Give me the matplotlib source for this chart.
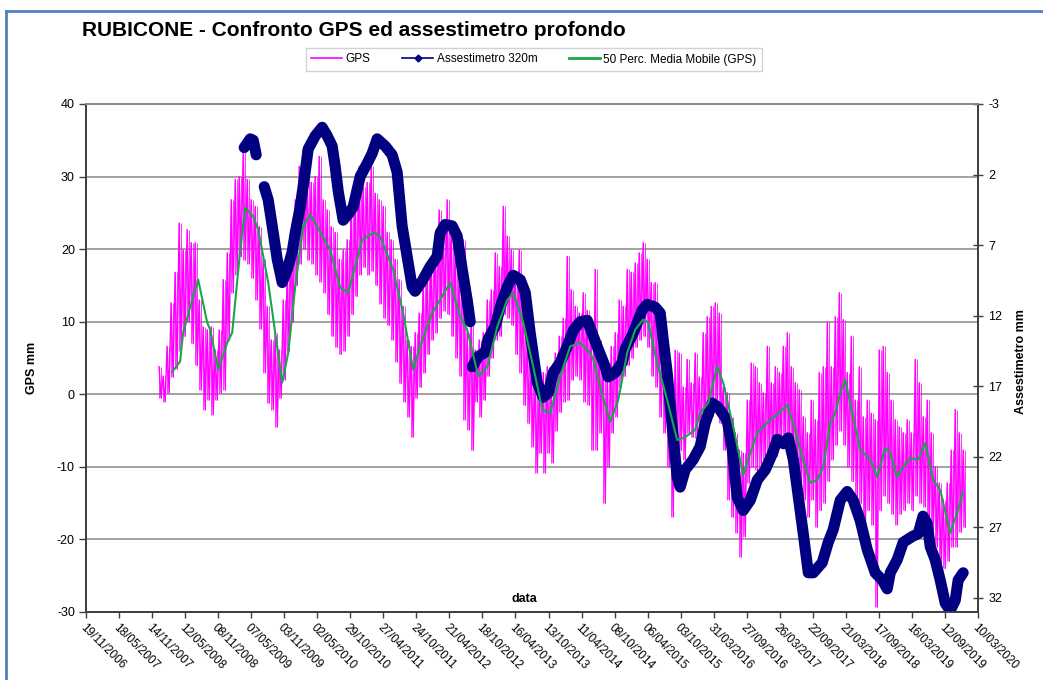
import numpy as np
import matplotlib
matplotlib.use("Agg")
import matplotlib.pyplot as plt
import matplotlib.dates as mdates
from matplotlib.lines import Line2D
from datetime import datetime, timedelta

plt.rcParams['font.family'] = ['Liberation Sans', 'DejaVu Sans']
plt.rcParams['axes.unicode_minus'] = False

# GPS (mm): minimo e massimo ogni ~3 settimane, da fine 2007 a fine 2019
gps_inizio, gps_fine = 2007.988, 2019.983
gps_max = [
    3.8, 2.5, 6.6, 12.6, 16.8, 23.6, 19.9, 22.7, 20.9, 20.9,
    13.0, 9.3, 8.9, 9.3, 6.1, 8.9, 15.8, 19.5, 26.8, 29.6,
    30.0, 33.4, 29.6, 26.8, 25.9, 23.1, 18.6, 12.1, 7.5, 8.5,
    6.1, 13.0, 17.6, 22.3, 26.8, 31.4, 33.7, 30.0, 29.2, 30.0,
    32.8, 26.8, 25.4, 23.1, 22.3, 18.6, 19.9, 21.3, 26.8, 27.7,
    31.4, 28.6, 29.2, 31.4, 27.7, 26.8, 25.9, 22.3, 21.3, 18.6,
    15.8, 12.1, 7.5, 6.6, 8.5, 11.2, 15.8, 16.8, 18.6, 21.3,
    25.4, 23.1, 26.8, 23.1, 19.9, 16.8, 21.3, 8.5, 11.2, 6.1,
    7.5, 8.5, 13.0, 14.4, 19.5, 17.6, 25.9, 21.8, 19.9, 16.8,
    19.9, 11.2, 7.5, 3.8, 2.0, 1.0, 3.0, 3.8, 1.6, 5.7,
    8.0, 10.5, 19.0, 14.4, 12.1, 11.2, 14.0, 11.6, 8.5, 17.2,
    7.5, 4.8, 3.0, 6.6, 8.5, 13.0, 12.1, 17.2, 16.8, 18.1,
    19.5, 20.9, 18.6, 15.4, 15.4, 7.5, 7.5, 1.6, 1.0, 6.1,
    5.7, 1.0, 4.8, 1.6, 5.7, 2.4, 8.5, 10.7, 12.1, 12.6,
    11.2, 1.0, 0.2, -3.1, -5.3, -7.7, -8.1, -0.8, 4.3, 3.8,
    1.6, 0.2, 6.6, 1.6, 3.8, 3.0, 6.6, 8.5, 3.8, 1.6,
    0.6, -3.1, -5.3, -0.8, -3.5, 3.0, 3.8, 9.9, 3.8, 10.7,
    14.0, 10.3, 3.0, 8.0, -0.8, 3.8, -3.1, -0.8, -2.6, -3.5,
    6.1, 6.6, 3.0, -0.8, -3.5, -4.5, -5.3, -3.5, -5.3, 4.8,
    1.6, -3.1, -0.8, -5.3, -10.0, -12.2, -14.5, -12.2, -7.7, -2.1,
    -5.3, -7.7,
]
gps_min = [
    -0.5, -1.0, 0.2, 2.4, 3.5, 6.0, 8.0, 10.0, 7.0, 4.0,
    0.6, -2.1, -0.8, -2.8, -0.8, 0.2, 0.6, 7.5, 14.0, 16.5,
    19.0, 18.5, 18.0, 16.0, 13.0, 9.0, 3.0, -1.2, -2.1, -4.5,
    -0.5, 2.0, 6.0, 10.0, 15.0, 18.0, 20.0, 18.5, 18.0, 16.5,
    15.5, 14.0, 11.0, 8.0, 6.5, 5.5, 6.0, 8.0, 11.0, 13.5,
    16.5, 17.5, 16.5, 17.0, 15.0, 12.5, 10.5, 9.5, 7.5, 4.5,
    1.5, -1.0, -3.1, -5.9, -0.5, 1.0, 3.0, 5.5, 7.5, 8.5,
    10.5, 11.5, 11.0, 8.0, 5.0, 2.5, -3.5, -4.9, -7.7, -1.0,
    -3.1, -0.8, 2.5, 5.0, 7.5, 8.0, 11.0, 10.5, 9.5, 5.5,
    3.0, -1.5, -4.0, -7.2, -10.8, -8.1, -10.8, -8.1, -9.4, -5.0,
    -2.5, -1.0, -0.8, 2.0, 2.5, 2.0, -1.0, -1.5, -7.7, -7.7,
    -5.3, -15.0, -10.0, -5.3, -3.1, 1.0, 2.5, 4.0, 5.0, 6.5,
    7.5, 8.0, 6.5, 2.5, 1.0, -3.1, -5.3, -10.0, -16.9, -10.0,
    -7.7, -9.0, -5.3, -5.9, -6.0, -7.0, -6.0, -4.5, -3.0, -2.0,
    -4.0, -7.7, -14.5, -16.9, -19.1, -22.4, -19.6, -12.2, -10.0, -10.5,
    -10.0, -9.5, -8.5, -8.0, -8.5, -7.0, -7.5, -8.0, -9.5, -12.0,
    -12.8, -14.5, -16.9, -14.5, -18.3, -16.0, -15.0, -12.0, -9.0, -7.0,
    -5.0, -7.0, -10.0, -12.0, -14.0, -15.0, -19.1, -16.0, -18.0, -29.3,
    -16.0, -14.0, -15.0, -16.5, -18.0, -16.5, -16.0, -15.0, -16.0, -14.0,
    -15.0, -15.5, -18.3, -19.0, -21.0, -23.8, -24.0, -23.0, -21.0, -21.0,
    -19.0, -18.3,
]

# media mobile 50 periodi del GPS (mm)
mm_anno = [
    2008.167, 2008.286, 2008.331, 2008.466, 2008.555, 2008.689, 2008.734, 2008.853, 2008.988, 2009.062,
    2009.182, 2009.256, 2009.376, 2009.450, 2009.599, 2009.808, 2009.898, 2010.002, 2010.121, 2010.226,
    2010.330, 2010.524, 2010.673, 2010.793, 2010.927, 2011.002, 2011.121, 2011.196, 2011.270, 2011.464,
    2011.613, 2011.763, 2011.867, 2012.046, 2012.195, 2012.315, 2012.464, 2012.568, 2012.732, 2012.867,
    2013.016, 2013.165, 2013.254, 2013.404, 2013.553, 2013.687, 2013.806, 2013.956, 2014.105, 2014.254,
    2014.403, 2014.448, 2014.552, 2014.702, 2014.821, 2014.955, 2015.075, 2015.194, 2015.268, 2015.403,
    2015.552, 2015.701, 2015.821, 2015.970, 2016.044, 2016.164, 2016.298, 2016.387, 2016.537, 2016.686,
    2016.790, 2016.895, 2017.089, 2017.238, 2017.342, 2017.462, 2017.536, 2017.685, 2017.790, 2017.879,
    2017.984, 2018.058, 2018.133, 2018.208, 2018.312, 2018.431, 2018.581, 2018.685, 2018.804, 2018.879,
    2018.983, 2019.073, 2019.177, 2019.297, 2019.401, 2019.521, 2019.625, 2019.774, 2019.879, 2019.968,
]
mm_val = [
    3.1, 4.5, 8.5, 13.0, 15.8, 9.9, 8.9, 3.4, 7.1, 8.5,
    19.9, 25.7, 24.5, 22.7, 15.4, 1.6, 5.7, 14.8, 23.1, 24.8,
    23.1, 19.9, 14.7, 14.0, 18.6, 21.3, 22.0, 22.3, 21.7, 17.2,
    11.2, 3.4, 6.6, 11.2, 13.5, 15.4, 10.7, 8.9, 2.5, 3.8,
    9.3, 13.0, 14.0, 9.9, 3.8, -2.1, -2.6, 2.5, 6.6, 7.1,
    5.7, 4.8, 1.0, -3.8, -0.8, 5.7, 8.9, 10.3, 9.9, 4.3,
    -0.8, -6.3, -5.9, -4.9, -2.6, -1.2, 3.8, 1.6, -4.5, -11.1,
    -8.1, -5.3, -3.5, -2.4, -1.5, -4.9, -7.7, -12.2, -11.8, -10.0,
    -3.9, -2.6, 0.2, 2.0, -2.6, -7.7, -9.0, -11.4, -7.4, -8.1,
    -11.4, -10.0, -8.8, -9.0, -6.7, -11.8, -13.2, -19.1, -16.3, -13.4,
]

# assestimetro profondo 320 m (mm), nan = interruzione della serie
ass_anno = [
    2009.241, 2009.286, 2009.331, 2009.376, 2009.420, 2009.480,
    2009.540, 2009.599, 2009.659, 2009.734, 2009.808, 2009.883, 2009.957, 2010.002, 2010.077, 2010.151,
    2010.196, 2010.301, 2010.405, 2010.480, 2010.554, 2010.599, 2010.644, 2010.718, 2010.793, 2010.867,
    2010.972, 2011.076, 2011.151, 2011.226, 2011.345, 2011.449, 2011.524, 2011.598, 2011.673, 2011.748,
    2011.792, 2011.897, 2012.016, 2012.121, 2012.165, 2012.240, 2012.344, 2012.419, 2012.494, 2012.568,
    2012.613, 2012.628,
    2012.643, 2012.732, 2012.837, 2012.881, 2012.986, 2013.061, 2013.165, 2013.254, 2013.359, 2013.434,
    2013.508, 2013.613, 2013.702, 2013.777, 2013.851, 2013.956, 2014.060, 2014.150, 2014.254, 2014.359,
    2014.433, 2014.523, 2014.627, 2014.672, 2014.776, 2014.881, 2014.925, 2015.045, 2015.179, 2015.254,
    2015.373, 2015.448, 2015.492, 2015.552, 2015.627, 2015.701, 2015.746, 2015.821, 2015.940, 2016.044,
    2016.119, 2016.223, 2016.313, 2016.447, 2016.522, 2016.596, 2016.686, 2016.790, 2016.895, 2017.014,
    2017.119, 2017.193, 2017.283, 2017.357, 2017.432, 2017.491, 2017.581, 2017.656, 2017.730, 2017.864,
    2017.954, 2018.029, 2018.133, 2018.237, 2018.327, 2018.431, 2018.536, 2018.655, 2018.760, 2018.834,
    2018.879, 2018.983, 2019.073, 2019.207, 2019.297, 2019.368, 2019.431, 2019.476, 2019.550, 2019.625,
    2019.700, 2019.774, 2019.849, 2019.893, 2019.968,
]
ass_val = [
    0.09, -0.22, -0.53, -0.43, 0.60, np.nan,
    2.86, 3.79, 5.64, 8.01, 9.65, 8.73, 7.49, 6.15, 4.30, 1.83,
    0.19, -0.74, -1.35, -0.74, -0.02, 1.42, 3.17, 5.23, 4.82, 4.30,
    2.14, 1.22, 0.50, -0.53, -0.02, 0.60, 1.83, 5.64, 7.80, 9.96,
    10.27, 9.55, 8.52, 7.80, 6.15, 5.54, 5.64, 6.36, 8.73, 10.89,
    12.43, np.nan,
    15.62, 14.90, 14.59, 13.66, 12.74, 11.40, 9.96, 9.14, 9.45, 10.37,
    13.25, 16.75, 17.78, 17.47, 16.03, 15.31, 14.18, 13.05, 12.43, 12.33,
    13.25, 14.38, 15.62, 16.34, 16.03, 15.31, 14.38, 13.25, 11.61, 11.20,
    11.40, 11.81, 13.66, 16.03, 19.84, 23.44, 24.15, 22.92, 22.20, 21.28,
    19.63, 18.19, 18.50, 19.42, 21.48, 24.88, 25.80, 25.08, 23.64, 22.92,
    21.79, 20.76, 21.07, 20.66, 22.20, 24.26, 27.45, 30.22, 30.22, 29.50,
    28.06, 27.14, 25.08, 24.46, 25.08, 26.52, 28.58, 30.22, 30.74, 31.36,
    30.22, 29.30, 28.06, 27.65, 27.45, 26.21, 26.73, 28.37, 29.30, 30.74,
    32.38, 32.90, 32.18, 30.74, 30.22,
]


def anno2num(a):
    # anno decimale -> numero data di matplotlib
    y = int(a)
    t0 = datetime(y, 1, 1)
    return mdates.date2num(t0 + (datetime(y + 1, 1, 1) - t0) * (a - y))


W, H = 1043, 680
fig = plt.figure(figsize=(W / 100, H / 100), dpi=100)
ax = fig.add_axes([86 / W, 1 - 612 / H, (978 - 86) / W, (612 - 104) / H])
ax2 = ax.twinx()

x0 = mdates.date2num(datetime(2006, 11, 19))
x1 = mdates.date2num(datetime(2020, 3, 10))
ax.set_xlim(x0, x1)
ax.set_ylim(-30, 40)
ax2.set_ylim(33, -3)

# serie GPS a dente di sega tra minimo e massimo, con le barre min-max di ogni intervallo
t = np.array([anno2num(a) for a in np.linspace(gps_inizio, gps_fine, len(gps_max))])
q = (t[1] - t[0]) / 4
gx = np.column_stack([t - q, t + q]).ravel()
gy = np.column_stack([gps_max, gps_min]).ravel()
ax.plot(gx, gy, color='#FF00FF', lw=1.0, zorder=2)
ax.vlines(np.concatenate([t - q, t + q]), gps_min + gps_min, gps_max + gps_max,
          color='#FF00FF', lw=0.7, alpha=0.8, zorder=2)

# assestimetro sull'asse destro (invertito)
ta = [anno2num(a) for a in ass_anno]
ax.plot(ta, ass_val, color='#000080', lw=8, solid_capstyle='round',
        solid_joinstyle='round', transform=ax2.transData, zorder=3)

tm = [anno2num(a) for a in mm_anno]
ax.plot(tm, mm_val, color='#19A64A', lw=1.5, zorder=4)

# griglia e assi
ax.set_yticks(range(-30, 41, 10))
ax.yaxis.grid(True, color='#9A9A9A', lw=1.3)
ax.set_axisbelow(True)
ax2.set_yticks(range(-3, 33, 5))

ticks = [x0 + 180 * k for k in range(28)]
ax.set_xticks(ticks)
ax.xaxis.set_major_formatter(mdates.DateFormatter('%d/%m/%Y'))
for lab in ax.get_xticklabels():
    lab.set_rotation(-45)
    lab.set_ha('left')
    lab.set_va('top')
    lab.set_rotation_mode('anchor')

ax.tick_params(axis='x', length=4, width=1, color='#404040', labelsize=8.5, pad=3)
ax.tick_params(axis='y', length=5, width=1, color='#404040', labelsize=9, pad=3)
ax2.tick_params(axis='y', direction='inout', length=7, width=1, color='#404040',
                labelsize=9, pad=4)

for a in (ax, ax2):
    for s in a.spines.values():
        s.set_color('#404040')
        s.set_linewidth(1.3)
    a.spines['top'].set_color('#8C8C8C')

ax.set_ylabel('GPS mm', fontsize=9, fontweight='bold')
ax.yaxis.set_label_coords((38 - 86) / 892, (612 - 368) / 508)
ax2.set_ylabel('Assestimetro mm', fontsize=9, fontweight='bold')
ax2.yaxis.set_label_coords((1015 - 86) / 892, (612 - 362) / 508)

ax.text((524 - 86) / 892, (612 - 599) / 508, 'data', transform=ax.transAxes,
        ha='center', va='center', fontsize=9, fontweight='bold')

fig.text(82 / W, 1 - 30 / H, 'RUBICONE - Confronto GPS ed assestimetro profondo',
         fontsize=15, fontweight='bold', ha='left', va='center')

maniglie = [
    Line2D([], [], color='#FF00FF', lw=1.2),
    Line2D([], [], color='#000080', lw=1.2, marker='D', markersize=3.5),
    Line2D([], [], color='#19A64A', lw=2),
]
etichette = ['GPS', 'Assestimetro 320m', '50 Perc. Media Mobile (GPS)']
fig.legend(maniglie, etichette, loc='center', bbox_to_anchor=(534 / W, 1 - 59.5 / H),
           ncol=3, fontsize=8.5, frameon=True, fancybox=False, edgecolor='#C8C8C8',
           handlelength=2.6, handletextpad=0.3, columnspacing=2.7, borderpad=0.45)

# cornice esterna
fig.add_artist(Line2D([6 / W, 6 / W], [0, 1 - 10.5 / H], color='#4F81BD', lw=2,
                      transform=fig.transFigure))
fig.add_artist(Line2D([6 / W, 1], [1 - 10.5 / H, 1 - 10.5 / H], color='#4F81BD', lw=2,
                      transform=fig.transFigure))

fig.savefig('out.png', dpi=100)
